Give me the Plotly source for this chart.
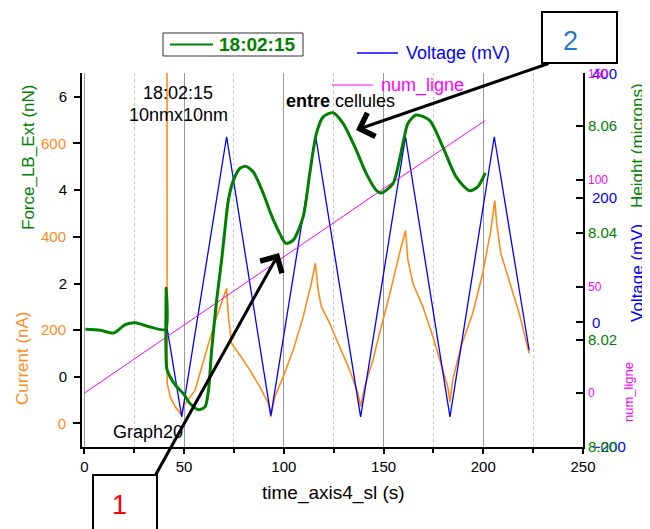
import plotly.graph_objects as go

FONT = "Liberation Sans, Arial, sans-serif"
GREEN = "#008000"
ORANGE = "#FF8C1A"
BLUE = "#0000FF"
MAGENTA = "#FF00FF"

# Current (nA), orange trace
cur_t = [41.3, 41.5, 43, 45.5, 48, 48.8, 49.6, 53, 55.5, 61.3,
         66.3, 70.5, 71.3, 72.2, 73.8, 78, 83, 88, 92.2, 93.5,
         95.5, 99.7, 104.7, 109.7, 113.8, 115.8, 117.2, 118.8, 123, 128,
         133, 137.2, 138.5, 140.5, 144.7, 148, 153, 158, 161, 162.2,
         164.7, 169.7, 174.7, 179.7, 182.2, 183.3, 184.7, 188.8, 194.7, 199.7,
         203.8, 205.8, 206.7, 208.8, 213, 218, 223]
cur_nA = [2000, 86, 57, 36, 21, 18, 36, 57, 71, 157,
          228, 279, 289, 229, 171, 146, 114, 78, 43, 14,
          57, 100, 157, 228, 300, 343, 286, 250, 214, 164,
          114, 64, 36, 78, 136, 193, 275, 364, 413, 350,
          300, 250, 186, 114, 78, 46, 93, 164, 236, 321,
          414, 477, 429, 364, 307, 236, 150]

# Voltage (mV), blue triangle
volt_t = [41.5, 48.8, 71.3, 93.5, 116, 138.5, 161, 183.3, 205.5, 223]
volt_mV = [-10, -152, 298, -150, 298, -152, 298, -152, 298, -45]

# num_ligne, magenta
line_t = [0, 50, 100, 150, 201]
line_n = [0, 32, 64, 96, 128]

# Force_LB_Ext (nN), green
force_t = [0.5, 8, 14.7, 20.5, 25.5, 33, 40.7, 41, 41.3, 43,
           46.3, 49.7, 53, 57.2, 60.5, 62.2, 63.8, 66.3, 68.8, 70.3,
           72.2, 74.7, 78, 81, 84.7, 89.7, 93.8, 98, 101, 104.7,
           109.7, 113, 116.3, 119.7, 124.7, 129.7, 136.3, 141.3, 146.3, 148.8,
           154.7, 159.7, 162.2, 166.3, 173, 179.7, 186.3, 193, 197.2, 201]
force_nN = [1.02, 1.0, 0.94, 1.12, 1.16, 1.07, 1.02, 1.9, 0.18, 0.0,
            -0.21, -0.36, -0.57, -0.70, -0.64, -0.29, 0.57, 1.64, 2.5, 3.1,
            3.79, 4.21, 4.47, 4.51, 4.39, 3.93, 3.46, 3.07, 2.86, 2.93,
            3.43, 4.36, 5.21, 5.57, 5.66, 5.43, 4.86, 4.36, 4.0, 3.94,
            4.14, 5.0, 5.43, 5.61, 5.5, 4.93, 4.29, 3.99, 4.07, 4.37]

# Height (microns) axis ticks (no trace drawn on it)
height_ticks = [8.00, 8.02, 8.04, 8.06]

# plot box in window pixels; the page body adds an 8px offset
OFF = 8
L, R, T, B = 82, 583, 73, 447
W, H = 650 - OFF, 529 - OFF


def P(x, y):
    return (x - L) / (R - L), (B - y) / (B - T)


fig = go.Figure()
fig.add_trace(go.Scatter(x=cur_t, y=cur_nA, yaxis="y", mode="lines",
                         line=dict(color=ORANGE, width=1.6)))
fig.add_trace(go.Scatter(x=volt_t, y=volt_mV, yaxis="y2", mode="lines",
                         line=dict(color=BLUE, width=1.3)))
fig.add_trace(go.Scatter(x=line_t, y=line_n, yaxis="y3", mode="lines",
                         line=dict(color=MAGENTA, width=1)))
fig.add_trace(go.Scatter(x=[None], y=[None], yaxis="y4", mode="lines",
                         hoverinfo="skip"))
fig.add_trace(go.Scatter(x=force_t, y=force_nN, yaxis="y5", mode="lines",
                         line=dict(color=GREEN, width=3, shape="spline", smoothing=0.7)))

tick_common = dict(showgrid=False, zeroline=False, tickcolor="black", tickwidth=1.5,
                   ticklen=7, anchor="x", automargin=False, ticklabelstandoff=4)

fig.update_layout(
    width=W, height=H,
    margin=dict(l=L - OFF, r=650 - R, t=T - OFF, b=529 - B, autoexpand=False),
    plot_bgcolor="white", paper_bgcolor="white",
    font=dict(family=FONT, size=15, color="black"),
    showlegend=False,
    xaxis=dict(range=[-1.2, 250], tickvals=[0, 50, 100, 150, 200, 250],
               ticks="outside", ticklen=5, tickwidth=1.5, tickcolor="black",
               showline=True, linecolor="black", linewidth=2, automargin=False,
               showgrid=True, gridcolor="#999999", gridwidth=1, zeroline=False,
               minor=dict(dtick=25, tick0=0, ticks="outside", ticklen=4, tickcolor="black",
                          showgrid=True, gridcolor="#c4c4c4", griddash="dot", gridwidth=1),
               tickfont=dict(size=15, color="black")),
    yaxis=dict(range=[-50.8, 750.6], tickvals=[0, 200, 400, 600], side="left",
               ticks="outside", showline=True, linecolor="black", linewidth=2,
               tickfont=dict(size=15, color=ORANGE), **tick_common),
    yaxis2=dict(range=[-200.4, 400.4], tickvals=[-200, 0, 200, 400], side="right",
                overlaying="y", ticks="inside", showline=True, linecolor="black", linewidth=2,
                tickfont=dict(size=15, color=BLUE), **tick_common),
    yaxis3=dict(range=[-25.3, 150.3], tickvals=[0, 50, 100, 150], side="right",
                overlaying="y", ticks="inside",
                tickfont=dict(size=12, color=MAGENTA), **tick_common),
    yaxis4=dict(range=[7.9999, 8.0699], tickvals=height_ticks,
                ticktext=["%.2f" % v for v in height_ticks], side="right",
                overlaying="y", ticks="inside",
                tickfont=dict(size=15, color=GREEN), **tick_common),
    yaxis5=dict(range=[-1.5, 6.51], tickvals=[0, 2, 4, 6], side="left",
                overlaying="y", ticks="outside",
                tickfont=dict(size=15, color="black"), **tick_common),
)

shapes = []
annots = []


def text(x, y, s, size, color="black", angle=0, xanchor="center"):
    px, py = P(x, y)
    annots.append(dict(x=px, y=py, xref="paper", yref="paper", text=s, showarrow=False,
                       textangle=angle, xanchor=xanchor, yanchor="middle",
                       font=dict(family=FONT, size=size, color=color)))


def rect(x0, y0, x1, y1, color="black", width=2):
    a, b = P(x0, y0)
    c, d = P(x1, y1)
    shapes.append(dict(type="rect", xref="paper", yref="paper", x0=a, y0=b, x1=c, y1=d,
                       line=dict(color=color, width=width), fillcolor="white", layer="above"))


def seg(x0, y0, x1, y1, color, width):
    a, b = P(x0, y0)
    c, d = P(x1, y1)
    shapes.append(dict(type="line", xref="paper", yref="paper", x0=a, y0=b, x1=c, y1=d,
                       line=dict(color=color, width=width), layer="above"))


def arrow(hx, hy, tx, ty):
    px, py = P(hx, hy)
    annots.append(dict(x=px, y=py, xref="paper", yref="paper", text="", showarrow=True,
                       ax=tx - hx, ay=ty - hy, arrowhead=4, arrowsize=1.6, arrowwidth=3,
                       arrowcolor="black", standoff=0))


# axis titles
text(28, 157, "Force_LB_Ext (nN)", 17, GREEN, -90)
text(22, 358, "Current (nA)", 17, ORANGE, -90)
text(637, 146, "Height (microns)", 17, GREEN, -90)
text(637, 273, "Voltage (mV)", 17, BLUE, -90)
text(628, 392, "num_ligne", 13, MAGENTA, -90)
text(333, 493, "time_axis4_sl (s)", 19)

# legend-like entries
rect(163, 33, 303, 56, color="#333333", width=1)
seg(170, 44.5, 213, 44.5, GREEN, 2)
text(217, 44.5, "<b>18:02:15</b>", 19, GREEN, xanchor="left")
seg(357, 53, 398, 53, BLUE, 1.5)
text(404, 53, "Voltage (mV)", 18, BLUE, xanchor="left")
seg(332, 85, 373, 85, MAGENTA, 1)
text(379, 85, "num_ligne", 18, MAGENTA, xanchor="left")

# text labels inside the plot
text(178, 93, "18:02:15", 18)
text(178, 115, "10nmx10nm", 18)
text(284, 101, "<b>entre</b> cellules", 18, xanchor="left")
text(148, 432, "Graph20", 18)

# numbered boxes and arrows
arrow(356, 130, 550, 63)
arrow(279, 253, 155, 476)
rect(542, 12, 617, 63)
text(570, 41, "2", 27, "#1F78C8")
rect(93, 475, 157, 545)
text(119, 505, "1", 27, "#FF0000")

fig.update_layout(shapes=shapes, annotations=annots)
fig.write_html("out.html")
